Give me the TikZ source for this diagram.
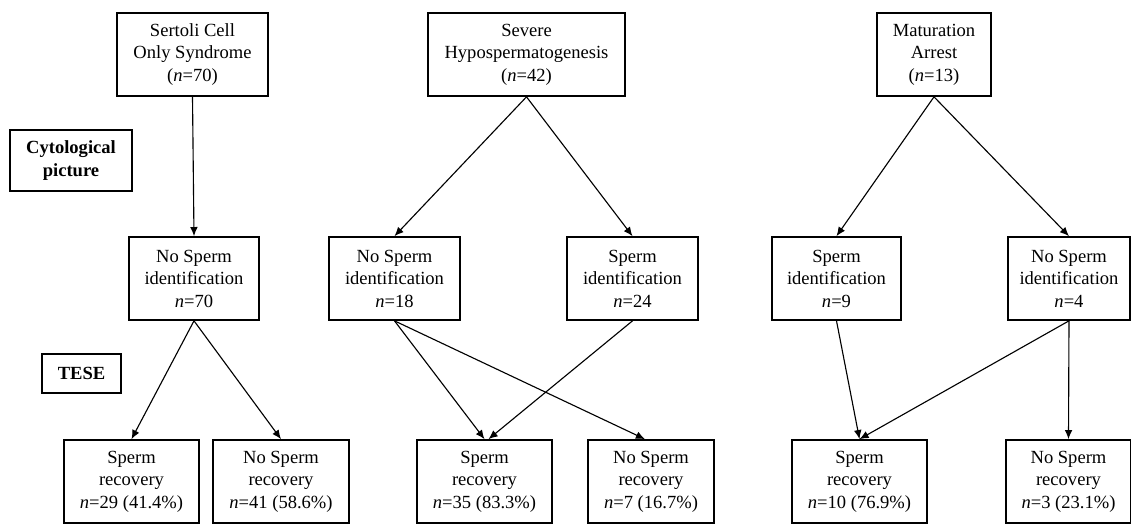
\documentclass[tikz,border=0pt]{standalone}
\usepackage{fontspec}
\setmainfont{Liberation Serif}
\usetikzlibrary{arrows.meta}

\begin{document}
\begin{tikzpicture}[>={Latex[length=6.5pt,width=5.5pt]},thick,
    main node/.style={draw,line width=1.2pt,align=center,inner sep=0pt,minimum height=2.075cm,font=\fontsize{13.2}{16}\selectfont},
    side node/.style={draw,line width=1.2pt,align=center,inner sep=0pt,font=\fontsize{13.2}{16}\selectfont\bfseries}]
    \useasboundingbox (0,0) rectangle (28.275,13.125);

    \node[main node,minimum width=3.775cm] (1) at (4.8125,11.7625){Sertoli Cell\\Only Syndrome\\(\textit{n}=70)};
    \node[main node,minimum width=4.925cm] (2) at (13.1625,11.7625){Severe\\Hypospermatogenesis\\(\textit{n}=42)};
    \node[main node,minimum width=2.85cm] (3) at (23.35,11.7625){Maturation\\Arrest\\(\textit{n}=13)};

    \node[side node,minimum width=3.05cm,minimum height=1.525cm] (c) at (1.775,9.1125){Cytological\\picture};
    \node[side node,minimum width=1.975cm,minimum height=0.975cm] (t) at (2.0375,3.7875){TESE};

    \node[main node,minimum width=3.25cm] (4) at (4.85,6.1625){No Sperm\\identification\\\textit{n}=70};
    \node[main node,minimum width=3.275cm] (5) at (9.8625,6.1625){No Sperm\\identification\\\textit{n}=18};
    \node[main node,minimum width=3.275cm] (6) at (15.8125,6.1625){Sperm\\identification\\\textit{n}=24};
    \node[main node,minimum width=3.225cm] (7) at (20.9125,6.1625){Sperm\\identification\\\textit{n}=9};
    \node[main node,minimum width=3.05cm] (8) at (26.725,6.1625){No Sperm\\identification\\\textit{n}=4};

    \node[main node,minimum width=3.375cm] (9) at (3.2875,1.0875){Sperm\\recovery\\\textit{n}=29 (41.4\%)};
    \node[main node,minimum width=3.4cm] (10) at (7.025,1.0875){No Sperm\\recovery\\\textit{n}=41 (58.6\%)};
    \node[main node,minimum width=3.375cm] (11) at (12.1125,1.0875){Sperm\\recovery\\\textit{n}=35 (83.3\%)};
    \node[main node,minimum width=3.15cm] (12) at (16.275,1.0875){No Sperm\\recovery\\\textit{n}=7 (16.7\%)};
    \node[main node,minimum width=3.375cm] (13) at (21.4875,1.0875){Sperm\\recovery\\\textit{n}=10 (76.9\%)};
    \node[main node,minimum width=3.125cm] (14) at (26.7125,1.0875){No Sperm\\recovery\\\textit{n}=3 (23.1\%)};

    \path[->]
        (1.south) edge (4.north)

        (2.south) edge (5.north)
        (2.south) edge (6.north)

        (3.south) edge (7.north)
        (3.south) edge (8.north)

        (4.south) edge (9.north)
        (4.south) edge (10.north)

        (5.south) edge (11.north)
        (5.south) edge ([xshift=-0.15cm]12.north)
        (6.south) edge ([xshift=0.1cm]11.north)

        (7.south) edge (13.north)
        (8.south) edge (13.north)
        (8.south) edge (14.north)
    ;
\end{tikzpicture}
\end{document}
